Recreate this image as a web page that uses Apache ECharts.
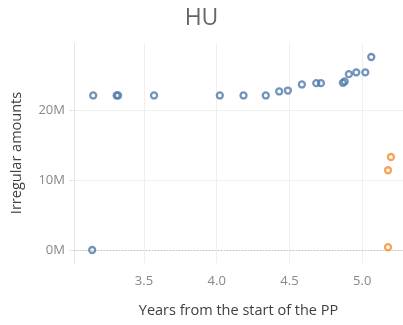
<!DOCTYPE html>
<html>
<head>
<meta charset="utf-8">
<script src="https://cdn.jsdelivr.net/npm/echarts@6/dist/echarts.min.js"></script>
<style>
  html, body { margin: 0; padding: 0; background: #fff; }
  #chart { width: 403px; height: 325px; }
</style>
</head>
<body>
<div id="chart"></div>
<script>
// Years since the start of the programming period, and irregular amounts (millions)
const blueYears  = [3.151, 3.312, 3.322, 3.569, 4.021, 4.184, 4.337, 4.429, 4.489, 4.585, 4.684, 4.716, 4.867, 4.879, 4.908, 4.959, 5.021, 5.062, 3.144];
const blueAmounts = [22.1, 22.1, 22.1, 22.1, 22.1, 22.1, 22.1, 22.67, 22.8, 23.67, 23.86, 23.86, 23.9, 24.1, 25.14, 25.4, 25.4, 27.6, 0.0];
const orangeYears  = [5.197, 5.177, 5.177];
const orangeAmounts = [13.3, 11.4, 0.4];
const xTicks = [3.5, 4.0, 4.5, 5.0];
const yTicks = [0, 10, 20];

const pairs = (xs, ys) => xs.map((x, i) => [x, ys[i]]);

const FONT = '"Open Sans", "Noto Sans", sans-serif';
const chart = echarts.init(document.getElementById('chart'), null, { renderer: 'canvas' });

chart.setOption({
  animation: false,
  backgroundColor: '#ffffff',
  title: {
    text: 'HU',
    left: 'center',
    top: 2,
    textStyle: { fontFamily: FONT, fontSize: 23, fontWeight: 'normal', color: '#666666' }
  },
  grid: { left: 74, right: 0, top: 43, bottom: 62 },
  xAxis: {
    type: 'value',
    min: 3.019,
    max: 5.28,
    name: 'Years from the start of the PP',
    nameLocation: 'middle',
    nameGap: 40,
    nameTextStyle: { fontFamily: FONT, fontSize: 14.5, color: '#3f3f3f' },
    axisLine: { show: true, lineStyle: { color: '#e6e6e6', width: 1 } },
    axisTick: { show: false, customValues: xTicks },
    axisLabel: {
      customValues: xTicks,
      fontFamily: FONT, fontSize: 13, color: '#888888', margin: 12,
      formatter: v => v.toFixed(1)
    },
    splitLine: { show: true, lineStyle: { color: '#efefef', width: 1 } }
  },
  yAxis: {
    type: 'value',
    min: -1.86,
    max: 29.6,
    name: 'Irregular amounts',
    nameLocation: 'middle',
    nameGap: 50,
    nameTextStyle: { fontFamily: FONT, fontSize: 14.5, color: '#3f3f3f' },
    axisLine: { show: true, lineStyle: { color: '#e6e6e6', width: 1 } },
    axisTick: { show: true, length: 5, customValues: yTicks, lineStyle: { color: '#e6e6e6' } },
    axisLabel: {
      customValues: yTicks,
      fontFamily: FONT, fontSize: 13, color: '#888888', margin: 9,
      formatter: v => Math.round(v) + 'M'
    },
    splitLine: { show: true, lineStyle: { color: '#efefef', width: 1 } }
  },
  series: [
    {
      type: 'scatter',
      data: pairs(blueYears, blueAmounts),
      symbol: 'circle',
      symbolSize: 6,
      itemStyle: { color: 'rgba(255,255,255,0)', borderColor: '#4e79a7', borderWidth: 2.3 },
      markLine: {
        silent: true,
        symbol: 'none',
        label: { show: false },
        lineStyle: { type: [1, 2], color: '#bdbdbd', width: 1 },
        emphasis: { disabled: true },
        data: [{ yAxis: 0 }],
        z: 1
      },
      z: 3
    },
    {
      type: 'scatter',
      data: pairs(orangeYears, orangeAmounts),
      symbol: 'circle',
      symbolSize: 6,
      itemStyle: { color: 'rgba(255,255,255,0)', borderColor: '#f28e2b', borderWidth: 2.3 },
      z: 3
    }
  ]
});
</script>
</body>
</html>
